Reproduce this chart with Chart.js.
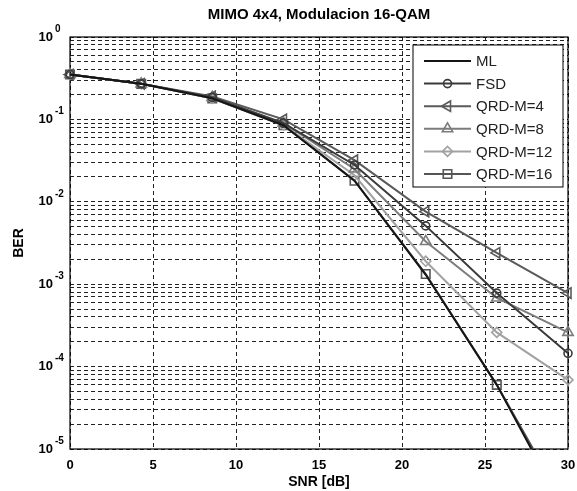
<!DOCTYPE html>
<html><head><meta charset="utf-8">
<script src="https://cdn.jsdelivr.net/npm/chart.js@4.4.1/dist/chart.umd.min.js"></script>
<style>html,body{margin:0;padding:0;background:#fff;} canvas{display:block}</style>
</head><body>
<canvas id="c" width="577" height="491"></canvas>
<script>
// ---- data ----
const snr = [0, 4.29, 8.57, 12.86, 17.14, 21.43, 25.71, 30];
const berML    = [0.35, 0.27, 0.18, 0.085, 0.018, 0.0013, 0.00006, 0.0000015];
const berFSD   = [0.35, 0.27, 0.185, 0.09, 0.028, 0.0051, 0.00078, 0.000145];
const berQRD4  = [0.35, 0.27, 0.19, 0.10, 0.032, 0.0076, 0.0024, 0.00078];
const berQRD8  = [0.35, 0.27, 0.185, 0.09, 0.025, 0.0033, 0.00068, 0.00026];
const berQRD12 = [0.35, 0.27, 0.18, 0.085, 0.021, 0.0019, 0.00026, 0.000069];
const berQRD16 = [0.35, 0.27, 0.18, 0.085, 0.018, 0.00133, 0.00006, 0.0000018];
const seriesNames = ['ML', 'FSD', 'QRD-M=4', 'QRD-M=8', 'QRD-M=12', 'QRD-M=16'];
const xTickValues = [0, 5, 10, 15, 20, 25, 30];
const yDecades = [0, -1, -2, -3, -4, -5];
const chartTitle = 'MIMO 4x4, Modulacion 16-QAM';
const xTitle = 'SNR [dB]';
const yTitle = 'BER';

// ---- styles ----
const seriesValues = [berML, berFSD, berQRD4, berQRD8, berQRD12, berQRD16];
const seriesColors = ['#151515', '#3a3a3a', '#5a5a5a', '#7c7c7c', '#a2a2a2', '#555555'];
const seriesMarkers = [false, 'circle', 'triangle', 'triangle', 'rectRot', 'rect'];
const seriesRot = [0, 0, -90, 0, 0, 0];
const seriesRadius = [0, 4, 6, 6, 5, 6];

const FONT = "'Liberation Sans', Arial, sans-serif";
Chart.defaults.font.family = FONT;
Chart.defaults.color = '#000';

const datasets = seriesNames.map((name, i) => ({
  label: name,
  data: snr.map((x, j) => ({ x: x, y: seriesValues[i][j] })),
  borderColor: seriesColors[i],
  backgroundColor: 'rgba(0,0,0,0)',
  borderWidth: 2,
  tension: 0,
  pointStyle: seriesMarkers[i],
  pointRadius: seriesRadius[i],
  pointRotation: seriesRot[i],
  pointBorderWidth: 1.6,
  pointBorderColor: seriesColors[i],
  pointBackgroundColor: 'rgba(0,0,0,0)',
  clip: { left: 10, right: 10, top: 10, bottom: 0 }
}));

function isDecade(v) {
  const l = Math.log10(v);
  return Math.abs(l - Math.round(l)) < 1e-9;
}

const framePlugin = {
  id: 'frame',
  beforeDatasetsDraw(chart) {
    const a = chart.chartArea, ctx = chart.ctx;
    ctx.save();
    ctx.strokeStyle = '#000';
    ctx.lineWidth = 1.2;
    ctx.setLineDash([]);
    ctx.strokeRect(a.left, a.top, a.right - a.left, a.bottom - a.top);
    ctx.restore();
  }
};

const exponentPlugin = {
  id: 'exponents',
  afterDraw(chart) {
    const ys = chart.scales.y, ctx = chart.ctx;
    ctx.save();
    ctx.font = 'bold 10px ' + FONT;
    ctx.fillStyle = '#000';
    ctx.textAlign = 'left';
    ctx.textBaseline = 'middle';
    yDecades.forEach(e => {
      const py = ys.getPixelForValue(Math.pow(10, e));
      ctx.fillText(String(e), ys.right - 15, py - 8);
    });
    ctx.restore();
  }
};

const legendPlugin = {
  id: 'insideLegend',
  afterDatasetsDraw(chart) {
    const a = chart.chartArea, ctx = chart.ctx;
    const w = 150, h = 142;
    const x0 = a.right - 5 - w, y0 = a.top + 8;
    ctx.save();
    ctx.fillStyle = '#fff';
    ctx.fillRect(x0, y0, w, h);
    ctx.strokeStyle = '#000';
    ctx.lineWidth = 1;
    ctx.strokeRect(x0, y0, w, h);
    chart.data.datasets.forEach((ds, i) => {
      const y = y0 + 16 + i * 22.6;
      ctx.strokeStyle = ds.borderColor;
      ctx.lineWidth = 2;
      ctx.beginPath();
      ctx.moveTo(x0 + 11, y);
      ctx.lineTo(x0 + 58, y);
      ctx.stroke();
      if (ds.pointStyle) {
        ctx.fillStyle = 'rgba(0,0,0,0)';
        ctx.strokeStyle = ds.pointBorderColor;
        ctx.lineWidth = ds.pointBorderWidth;
        Chart.helpers.drawPoint(ctx, {
          pointStyle: ds.pointStyle, rotation: ds.pointRotation,
          radius: ds.pointRadius, borderWidth: ds.pointBorderWidth
        }, x0 + 34.5, y);
      }
      ctx.fillStyle = '#222';
      ctx.font = '15px ' + FONT;
      ctx.textAlign = 'left';
      ctx.textBaseline = 'middle';
      ctx.fillText(ds.label, x0 + 63, y + 1);
    });
    ctx.restore();
  }
};

new Chart(document.getElementById('c'), {
  type: 'line',
  data: { datasets },
  options: {
    responsive: false,
    animation: false,
    layout: { padding: { top: 0, right: 9, bottom: 0, left: 0 } },
    plugins: {
      legend: { display: false },
      tooltip: { enabled: false },
      title: {
        display: true, text: chartTitle, fullSize: false,
        font: { size: 15, weight: 'bold' }, color: '#000',
        padding: { top: 6, bottom: 13 }
      }
    },
    scales: {
      x: {
        type: 'linear', min: 0, max: 30,
        afterBuildTicks: s => { s.ticks = xTickValues.map(v => ({ value: v })); },
        afterFit: s => { s.height = 42; s.paddingLeft = 0; s.paddingRight = 0; },
        ticks: { font: { size: 13, weight: 'bold' }, color: '#000', padding: 9, maxRotation: 0, autoSkip: false },
        grid: { color: '#222', lineWidth: 1, drawTicks: false },
        border: { display: false, dash: [4, 3] },
        title: { display: true, text: xTitle, font: { size: 14, weight: 'bold' }, color: '#000', padding: { top: 0, bottom: 0 } }
      },
      y: {
        type: 'logarithmic', min: 1e-5, max: 1,
        afterBuildTicks: s => {
          const t = [];
          for (let e = -5; e < 0; e++) for (let m = 1; m <= 9; m++) t.push({ value: m * Math.pow(10, e) });
          t.push({ value: 1 });
          s.ticks = t;
        },
        afterFit: s => { s.width = 70; s.paddingTop = 0; s.paddingBottom = 0; },
        ticks: {
          autoSkip: false, padding: 17, color: '#000',
          font: { size: 13, weight: 'bold' },
          callback: v => isDecade(v) ? '10' : ''
        },
        grid: { color: '#222', lineWidth: 1, drawTicks: false },
        border: { display: false, dash: [4, 3] },
        title: { display: true, text: yTitle, font: { size: 14, weight: 'bold' }, color: '#000', padding: { top: 11, bottom: 11 } }
      }
    }
  },
  plugins: [framePlugin, legendPlugin, exponentPlugin]
});
</script>
</body></html>
